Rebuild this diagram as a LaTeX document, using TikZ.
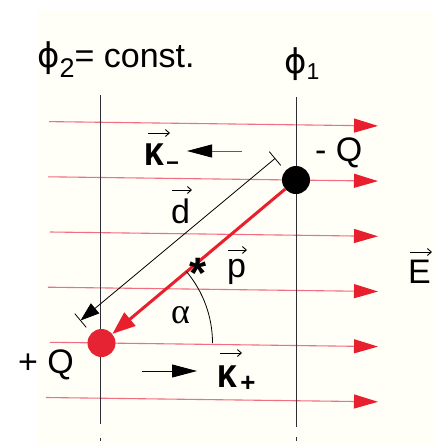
\documentclass[tikz,border=0pt]{standalone}
\usepackage{fontspec}
\setmainfont{Liberation Sans}
\newfontfamily\kfont{Liberation Mono}
\newfontfamily\grk{Liberation Serif}
\newfontfamily\phif{DejaVu Sans}
\usetikzlibrary{arrows.meta,calc}
\definecolor{fieldline}{RGB}{242,110,130}
\definecolor{arrred}{RGB}{232,32,45}
\definecolor{dotred}{RGB}{230,35,50}
\definecolor{gridgray}{RGB}{45,45,55}
\definecolor{kline}{RGB}{70,100,115}
\definecolor{paper}{RGB}{255,254,247}
\newcommand{\phisym}{{\phif ϕ}}
\begin{document}
\begin{tikzpicture}[x=1pt,y=-1pt,
  field/.style={draw=fieldline,line width=1.1pt,-{Triangle[length=24pt,width=14pt,color=arrred]}},
  equi/.style={draw=gridgray,line width=1pt},
  charge/.style={circle,minimum size=28pt,inner sep=0pt},
  lbl/.style={font=\fontsize{34}{40}\selectfont,inner sep=0pt,anchor=base west},
  vecarr/.style={line width=0.9pt,-{Straight Barb[length=4pt,width=7pt]}},
  forcearr/.style={draw=kline,line width=0.9pt,-{Triangle[length=25pt,width=13pt,color=black]}},
  dvec/.style={line width=0.8pt,-{Triangle[length=19pt,width=13pt]}},
  dipole/.style={draw=arrred,line width=3pt,-{Triangle[length=23pt,width=17pt]}},
]
\useasboundingbox (0,0) rectangle (433,445);
\fill[paper] (37,10) rectangle (433,445);

% field lines
\foreach \y/\s in {121.6/49,176.8/48,232/50,287.2/48,342.3/50,397.5/46}
  \draw[field] (\s,\y) -- (378,{\y+4.3});

% equipotential lines
\draw[equi] (100.5,95) -- (100.5,424);
\draw[equi] (296.5,97) -- (296.5,427);
\draw[equi] (100.5,438) -- (100.5,441);
\draw[equi] (296.5,437) -- (296.5,441);

% distance vector d
\coordinate (dT) at (275,158.5);
\coordinate (dB) at (80.5,320.5);
\draw[dvec] (dT) -- (dB);
\draw[line width=0.8pt] ($(dT)!9pt!90:(dB)$) -- ($(dT)!9pt!-90:(dB)$);
\draw[line width=0.8pt] ($(dB)!9pt!90:(dT)$) -- ($(dB)!9pt!-90:(dT)$);

% charges
\node[charge,fill=black] (negQ) at (296,180) {};
\node[charge,fill=dotred] (posQ) at (101.5,343) {};

% dipole moment
\draw[dipole] (negQ) -- (posQ);

% angle
\draw[line width=0.8pt] ([shift={(0:111)}]posQ.center) arc[start angle=0,end angle=-40,radius=111];

% forces
\coordinate (kmS) at (242,151);
\coordinate (kmE) at (187,151);
\draw[forcearr] (kmS) -- (kmE);
\coordinate (kpS) at (142,371);
\coordinate (kpE) at (197,371);
\draw[forcearr,draw=black!80!blue] (kpS) -- (kpE);

% labels
\node[lbl] (phi2) at (37,67) {\phisym\raisebox{-10pt}{\fontsize{27}{30}\selectfont 2}= const.};
\node[lbl] (phi1) at (284,73) {\phisym\raisebox{-6pt}{\fontsize{23}{26}\selectfont 1}};
\node[lbl] (mQ) at (315,161) {- Q};
\node[lbl] (pQ) at (18,373) {+ Q};
\node[lbl] (dlab) at (171,223) {d};
\node[lbl] (plab) at (227,277) {p};
\node[lbl] (Elab) at (408,283) {E};
\node[lbl,font=\grk\fontsize{36}{40}\selectfont] (alab) at (171,323) {α};
\node[lbl,font=\kfont\bfseries\fontsize{33}{38}\selectfont] (kmlab) at (144,165) {K\kern1pt\raisebox{-4pt}{\fontsize{25}{28}\selectfont –}};
\node[lbl,font=\kfont\bfseries\fontsize{33}{38}\selectfont] (kplab) at (217,387) {K\kern3pt\raisebox{-4.5pt}{\fontsize{26}{28}\selectfont +}};
\node[lbl,font=\bfseries\fontsize{44}{50}\selectfont] (star) at (189.5,288) {*};

% vector arrows over symbols
\draw[vecarr] ($(kmlab.base west)+(4,-32)$) -- ++(22,0);
\draw[vecarr] ($(dlab.base west)+(1,-33)$) -- ++(20,0);
\draw[vecarr] ($(plab.base west)+(1,-27)$) -- ++(19,0);
\draw[vecarr] ($(Elab.base west)+(2,-31)$) -- ++(22,0);
\draw[vecarr] ($(kplab.base west)+(3,-34)$) -- ++(22,0);
\end{tikzpicture}
\end{document}
